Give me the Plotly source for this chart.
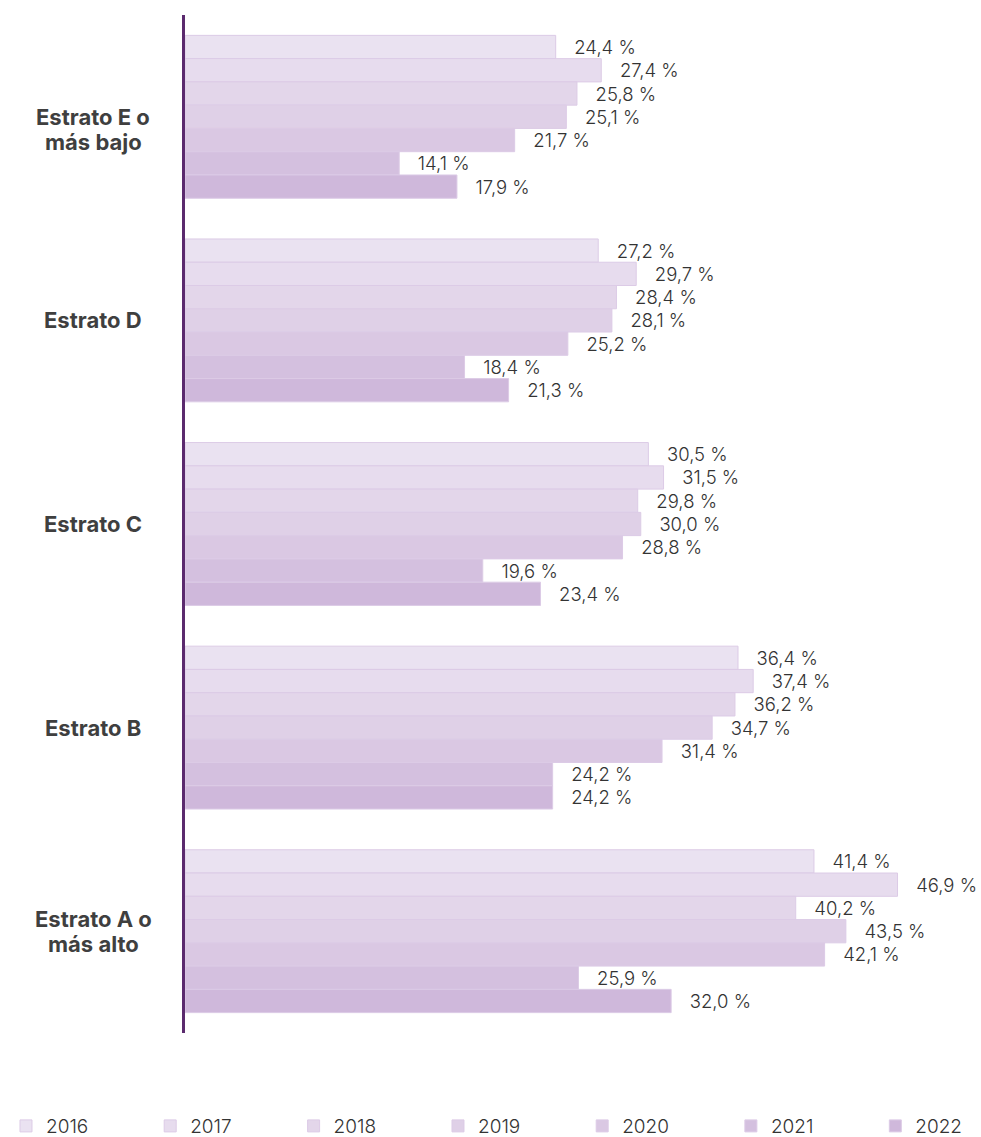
import plotly.graph_objects as go

# categories, top to bottom
estratos = ["Estrato E o<br>más bajo", "Estrato D", "Estrato C", "Estrato B", "Estrato A o<br>más alto"]
years = ["2016", "2017", "2018", "2019", "2020", "2021", "2022"]

# values (%) per year, same order as estratos
v2016 = [24.4, 27.2, 30.5, 36.4, 41.4]
v2017 = [27.4, 29.7, 31.5, 37.4, 46.9]
v2018 = [25.8, 28.4, 29.8, 36.2, 40.2]
v2019 = [25.1, 28.1, 30.0, 34.7, 43.5]
v2020 = [21.7, 25.2, 28.8, 31.4, 42.1]
v2021 = [14.1, 18.4, 19.6, 24.2, 25.9]
v2022 = [17.9, 21.3, 23.4, 24.2, 32.0]
series = [v2016, v2017, v2018, v2019, v2020, v2021, v2022]

colors = ["#EAE2F1", "#E7DCEE", "#E3D6EA", "#DFD0E7", "#DAC8E3", "#D4C0DF", "#CFB8DB"]

FONT = "Inter"
NB = "\u00a0"

fig = go.Figure()
for i, (yr, vals, col) in enumerate(zip(years, series, colors)):
    labels = [NB * 3 + f"{v:.1f} %".replace(".", ",") for v in vals]
    # pad legend names so entries are spread like the original
    name = yr if i == len(years) - 1 else yr + NB * 10 + "\u2009"
    fig.add_trace(go.Bar(
        y=estratos, x=vals, name=name, orientation="h",
        marker=dict(color=col, line=dict(color="#DCCBE6", width=1)),
        text=labels, textposition="outside", cliponaxis=False,
        textfont=dict(family=FONT, size=18.5, color="#333333", weight=300),
    ))

# category labels, one annotation per line (tighter line spacing than <br>)
top_shift = [-13, 0, 0, 0, 0]
for cat, sh in zip(estratos, top_shift):
    lines = cat.split("<br>")
    n = len(lines)
    for k, ln in enumerate(lines):
        fig.add_annotation(x=-0.116, xref="paper", y=cat, yref="y", text="<b>" + ln + "</b>",
                           showarrow=False, xanchor="center", yanchor="middle",
                           yshift=sh + (n - 1) * 12.5 - k * 25,
                           font=dict(family=FONT, size=22, color="#3f3f3f"))

fig.update_layout(
    width=981, height=1137,
    margin=dict(l=185, r=6, t=15, b=104, autoexpand=False),
    barmode="group", bargap=0.2, bargroupgap=0,
    plot_bgcolor="white", paper_bgcolor="white",
    font=dict(family=FONT, size=18, color="#333333"),
    legend=dict(orientation="h", x=-0.2266, y=-0.0914, yanchor="middle", xanchor="left",
                traceorder="normal",
                font=dict(family=FONT, size=19, color="#333333", weight=300)),
)
fig.update_xaxes(range=[0, 52], showgrid=False, showticklabels=False, zeroline=False, showline=False)
fig.update_yaxes(autorange="reversed", showticklabels=False, showgrid=False, zeroline=False,
                 showline=True, linecolor="#5B2A6E", linewidth=2.5)

# drop the default page margin so the figure fills the window exactly
fig.write_html("out.html", config={"displayModeBar": False},
               post_script="document.body.style.margin='0';")
